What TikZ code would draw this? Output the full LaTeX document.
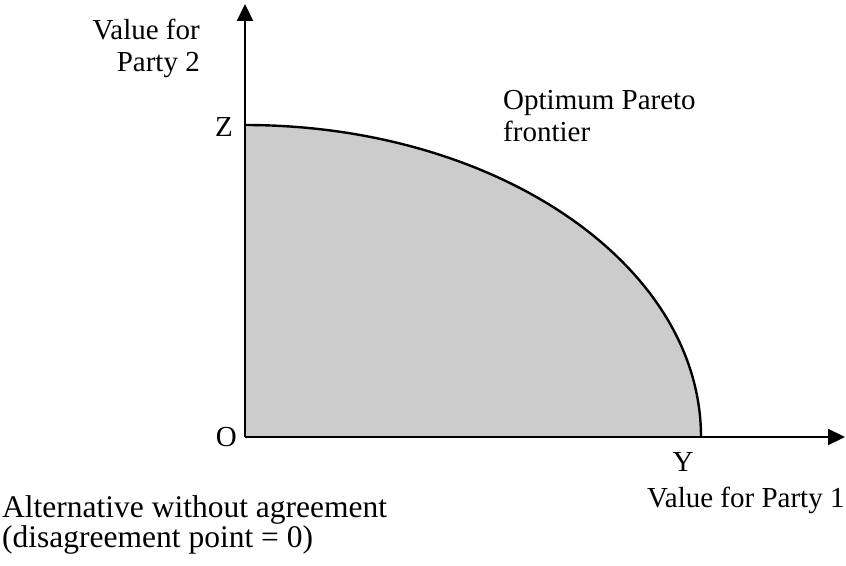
\documentclass[tikz,border=0pt]{standalone}
\usepackage{fontspec}
\setmainfont{Liberation Serif}
\usetikzlibrary{arrows.meta}

\begin{document}
\begin{tikzpicture}[x=1pt, y=1pt, font=\fontsize{29}{32.5}\selectfont]
      \useasboundingbox (0,0) rectangle (846,565);
      \coordinate (O) at (245,128);
      \coordinate (Z) at (245,440);
      \coordinate (Y) at (701,128);
      \coordinate (Xtip) at (845,128);
      \coordinate (Ytip) at (245,561);

      \fill[gray!40] (O) -- (Z) arc[start angle=90, end angle=0, x radius=456, y radius=312] -- cycle;
      \draw[line width=2.4pt] (Z) arc[start angle=90, end angle=0, x radius=456, y radius=312];

      \draw[line width=2.2pt, -{Triangle[length=17pt, width=16pt]}] (O) -- (Xtip);
      \draw[line width=2.2pt, -{Triangle[length=17pt, width=16pt]}] (O) -- (Ytip);

      \node[anchor=base east, inner sep=0pt] (lblZ) at (233,428) {Z};
      \node[anchor=base east, inner sep=0pt] (lblO) at (237,118) {O};
      \node[anchor=base, inner sep=0pt] (lblY) at (683,93) {Y};
      \node[anchor=base west, inner sep=0pt] (lblXaxis) at (647,57) {Value for Party 1};
      \node[anchor=base east, inner sep=0pt, align=right] (lblYaxis) at (200,493) {Value for\\Party 2};
      \node[anchor=base west, inner sep=0pt, align=left] (lblFront) at (503,423) {Optimum Pareto\\frontier};
      \node[anchor=base west, inner sep=0pt, align=left, font=\fontsize{31.5}{31}\selectfont] (lblAlt) at (2,17) {Alternative without agreement\\(disagreement point = 0)};
    \end{tikzpicture}
\end{document}
